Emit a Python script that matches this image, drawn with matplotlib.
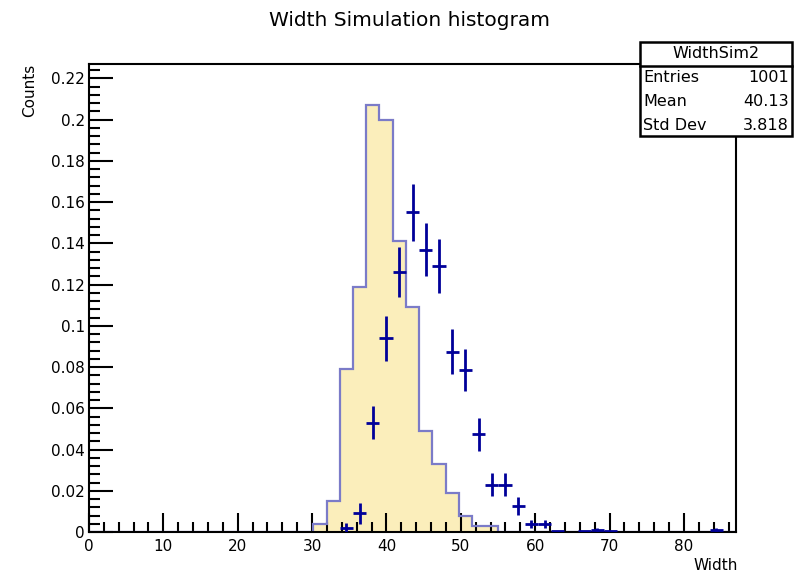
import numpy as np
import matplotlib
matplotlib.use("Agg")
import matplotlib.pyplot as plt
from matplotlib.patches import Rectangle
from matplotlib.ticker import MultipleLocator, FuncFormatter

plt.rcParams['font.family'] = ['DejaVu Sans']

# binning: 49 bins on [0, 87]
edges = np.linspace(0, 87, 50)
centers = 0.5 * (edges[:-1] + edges[1:])

# filled histogram (simulation), normalised
sim_vals = [0.0] * 17 + [0.004, 0.015, 0.079, 0.119, 0.207, 0.200, 0.141, 0.109,
                          0.049, 0.033, 0.019, 0.008, 0.003, 0.003] + [0.0] * 18

# data points with errors (0 = not drawn)
dat_vals = [0.0] * 19 + [0.002, 0.009, 0.053, 0.094, 0.126, 0.155, 0.137, 0.129,
                          0.0875, 0.0786, 0.0474, 0.023, 0.023, 0.0126, 0.004, 0.004,
                          0.0003, 0.0, 0.0003, 0.001, 0.0003,
                          0.0, 0.0, 0.0, 0.0, 0.0, 0.0, 0.0, 0.001, 0.0]
dat_errs = [0.0] * 19 + [0.0025, 0.005, 0.008, 0.011, 0.012, 0.014, 0.013, 0.013,
                          0.011, 0.010, 0.008, 0.0055, 0.0055, 0.0042, 0.002, 0.002,
                          0.0, 0.0, 0.0, 0.001, 0.0,
                          0.0, 0.0, 0.0, 0.0, 0.0, 0.0, 0.0, 0.001, 0.0]

stats_name = "WidthSim2"
stats_rows = [("Entries", "1001"), ("Mean", "40.13"), ("Std Dev", "3.818")]

W, H = 794, 579
fig = plt.figure(figsize=(W / 100, H / 100), dpi=100)
ax_l, ax_r, ax_t, ax_b = 89, 736, 64, 532
ax = fig.add_axes([ax_l / W, 1 - ax_b / H, (ax_r - ax_l) / W, (ax_b - ax_t) / H])

sim_vals = np.array(sim_vals)
ax.stairs(sim_vals, edges, fill=True, color='#fbeebb', zorder=1)
ax.stairs(sim_vals, edges, color='#7b7bc8', lw=1.6, zorder=2)

dat_vals = np.array(dat_vals)
dat_errs = np.array(dat_errs)
m = dat_vals > 0
half = 0.5 * np.diff(edges)
ax.errorbar(centers[m], dat_vals[m], xerr=half[m], yerr=dat_errs[m], fmt='none',
            ecolor='#000099', elinewidth=2, capsize=0, zorder=3)

ax.set_xlim(0, 87)
ax.set_ylim(0, 0.227)
ax.xaxis.set_major_locator(MultipleLocator(10))
ax.xaxis.set_minor_locator(MultipleLocator(2))
ax.yaxis.set_major_locator(MultipleLocator(0.02))
ax.yaxis.set_minor_locator(MultipleLocator(0.004))
ax.yaxis.set_major_formatter(FuncFormatter(lambda v, p: f"{v:g}"))
ax.tick_params(which='both', direction='in', top=False, right=False, width=1.5,
               labelsize=11)
ax.tick_params(which='major', axis='y', length=17, pad=3)
ax.tick_params(which='minor', axis='y', length=8)
ax.tick_params(which='major', axis='x', length=14, pad=5)
ax.tick_params(which='minor', axis='x', length=7)
for s in ax.spines.values():
    s.set_linewidth(1.5)

fig.text(410 / W, 1 - 20 / H, "Width Simulation histogram", ha='center', va='center',
         fontsize=14.5)
fig.text(30 / W, 1 - 64 / H, "Counts", rotation=90, ha='center', va='top', fontsize=11)
fig.text(738 / W, 1 - 566 / H, "Width", ha='right', va='center', fontsize=11)

# stats box
bx0, bx1, by0, by1, hdr = 640, 792, 42, 136, 66
def fx(p):
    return p / W
def fy(p):
    return 1 - p / H
fig.add_artist(Rectangle((fx(bx0), fy(by1)), fx(bx1) - fx(bx0), fy(by0) - fy(by1),
                         transform=fig.transFigure, facecolor='white', edgecolor='black',
                         lw=1.8, zorder=5))
fig.add_artist(plt.Line2D([fx(bx0), fx(bx1)], [fy(hdr), fy(hdr)], transform=fig.transFigure,
                          color='black', lw=1.8, zorder=6))
fig.text(fx((bx0 + bx1) / 2), fy(54), stats_name, ha='center', va='center', fontsize=11.5,
         zorder=7)
for i, (k, v) in enumerate(stats_rows):
    yy = fy(77 + 24 * i)
    fig.text(fx(bx0 + 3), yy, k, ha='left', va='center', fontsize=11.5, zorder=7)
    fig.text(fx(bx1 - 3), yy, v, ha='right', va='center', fontsize=11.5, zorder=7)

fig.savefig("out.png", dpi=100)
